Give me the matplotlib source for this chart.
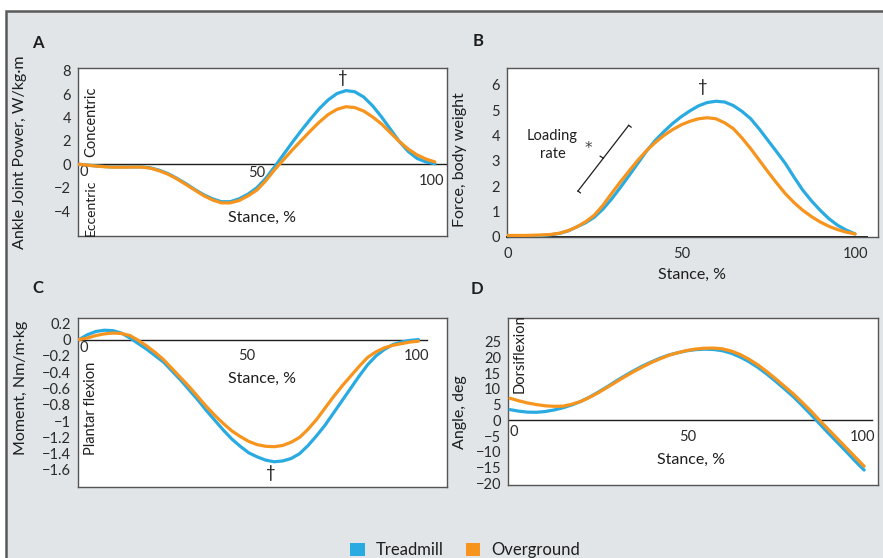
import matplotlib
matplotlib.use("Agg")
import matplotlib.pyplot as plt
from matplotlib.patches import Rectangle, Patch
import logging
logging.getLogger('matplotlib.font_manager').setLevel(logging.ERROR)

plt.rcParams['font.family'] = ['Liberation Sans Narrow', 'Lato', 'DejaVu Sans']

# ---------------- data ----------------
stance = [0, 2.5, 5, 7.5, 10, 12.5, 15, 17.5, 20, 22.5, 25, 27.5, 30, 32.5, 35, 37.5, 40,
          42.5, 45, 47.5, 50, 52.5, 55, 57.5, 60, 62.5, 65, 67.5, 70, 72.5, 75, 77.5, 80,
          82.5, 85, 87.5, 90, 92.5, 95, 97.5, 100]

power_treadmill = [0, -0.08, -0.15, -0.2, -0.23, -0.23, -0.22, -0.22, -0.3, -0.5, -0.8, -1.2,
                   -1.65, -2.15, -2.6, -2.95, -3.2, -3.2, -2.95, -2.55, -2.0, -1.2, -0.2, 0.85,
                   1.9, 2.9, 3.85, 4.75, 5.5, 6.05, 6.3, 6.2, 5.75, 5.0, 4.05, 3.0, 1.95, 1.1,
                   0.5, 0.2, 0.05]
power_overground = [0, -0.08, -0.16, -0.22, -0.25, -0.25, -0.24, -0.24, -0.33, -0.55, -0.85,
                    -1.25, -1.72, -2.2, -2.68, -3.05, -3.3, -3.3, -3.1, -2.7, -2.2, -1.4, -0.45,
                    0.4, 1.25, 2.05, 2.85, 3.6, 4.25, 4.7, 4.92, 4.85, 4.55, 4.05, 3.45, 2.7,
                    1.95, 1.3, 0.8, 0.45, 0.2]

force_treadmill = [0.02, 0.02, 0.03, 0.04, 0.06, 0.09, 0.14, 0.24, 0.40, 0.56, 0.78, 1.1, 1.5,
                   1.95, 2.42, 2.9, 3.38, 3.8, 4.15, 4.47, 4.74, 4.97, 5.17, 5.3, 5.35, 5.32,
                   5.18, 4.95, 4.66, 4.25, 3.8, 3.35, 2.89, 2.35, 1.84, 1.42, 1.05, 0.72, 0.46,
                   0.27, 0.12]
force_overground = [0.06, 0.06, 0.06, 0.07, 0.08, 0.1, 0.15, 0.25, 0.40, 0.6, 0.86, 1.25, 1.72,
                    2.17, 2.6, 3.02, 3.4, 3.72, 4.0, 4.23, 4.42, 4.56, 4.66, 4.7, 4.66, 4.5,
                    4.27, 3.9, 3.48, 3.02, 2.56, 2.12, 1.7, 1.35, 1.05, 0.8, 0.59, 0.42, 0.29,
                    0.19, 0.12]

moment_treadmill = [0.0, 0.06, 0.10, 0.115, 0.11, 0.08, 0.02, -0.05, -0.12, -0.2, -0.28, -0.39,
                    -0.5, -0.62, -0.74, -0.87, -0.99, -1.11, -1.22, -1.31, -1.39, -1.44, -1.48,
                    -1.5, -1.49, -1.46, -1.4, -1.3, -1.18, -1.05, -0.9, -0.75, -0.6, -0.45,
                    -0.31, -0.2, -0.12, -0.06, -0.03, -0.01, 0.0]
moment_overground = [0.0, 0.02, 0.05, 0.07, 0.08, 0.075, 0.05, -0.01, -0.08, -0.16, -0.25,
                     -0.36, -0.47, -0.58, -0.70, -0.82, -0.93, -1.03, -1.12, -1.19, -1.25,
                     -1.29, -1.31, -1.315, -1.3, -1.26, -1.2, -1.1, -0.98, -0.84, -0.7, -0.57,
                     -0.45, -0.33, -0.22, -0.15, -0.1, -0.07, -0.05, -0.03, -0.02]

angle_treadmill = [3.4, 2.9, 2.6, 2.55, 2.8, 3.3, 4.0, 4.9, 6.0, 7.4, 9.0, 10.7, 12.5, 14.2,
                   15.8, 17.3, 18.6, 19.8, 20.8, 21.5, 22.1, 22.45, 22.6, 22.5, 22.1, 21.3, 20.1,
                   18.6, 16.8, 14.7, 12.4, 10.0, 7.5, 4.7, 1.8, -1.2, -4.2, -7.1, -10.0, -13.0,
                   -15.8]
angle_overground = [7.0, 6.2, 5.5, 5.0, 4.6, 4.45, 4.5, 5.1, 6.0, 7.3, 8.8, 10.5, 12.2, 13.9,
                    15.5, 17.0, 18.4, 19.6, 20.7, 21.5, 22.2, 22.65, 22.9, 22.95, 22.7, 22.0,
                    20.9, 19.4, 17.6, 15.5, 13.2, 10.8, 8.4, 5.7, 2.9, -0.1, -3.0, -5.9, -8.8,
                    -11.7, -14.6]

series_names = ['Treadmill', 'Overground']
x_tick_values = [0, 50, 100]
power_ticks = [-4, -2, 0, 2, 4, 6, 8]
force_ticks = [0, 1, 2, 3, 4, 5, 6]
moment_ticks = [0.2, 0, -0.2, -0.4, -0.6, -0.8, -1, -1.2, -1.4, -1.6]
angle_ticks = [25, 20, 15, 10, 5, 0, -5, -10, -15, -20]

# ---------------- style ----------------
BLUE = '#29ABE2'
ORANGE = '#F7941D'
BG = '#E1E5E8'
TXT = '#1e1e1e'
TICKC = '#2a2a2a'
FRAME = '#555555'
LW = 2.3
TICK_FS = 10.5
LABEL_FS = 11.5

fig = plt.figure(figsize=(8.83, 5.58), dpi=100)
fig.patch.set_facecolor('white')
fig.patches.append(Rectangle((6 / 883, -0.05), 1.1, 1 - 11 / 558 + 0.05,
                             transform=fig.transFigure, facecolor=BG,
                             edgecolor='#5a5a5a', linewidth=1.8, zorder=-10))


def fmt(v):
    s = ('%g' % v)
    return s.replace('-', '\u2212') if v < 0 else s


def setup(ax, xlim, ylim, yticks):
    ax.set_facecolor('white')
    ax.set_xlim(*xlim)
    ax.set_ylim(*ylim)
    for sp in ax.spines.values():
        sp.set_color(FRAME)
        sp.set_linewidth(1.0)
    ax.set_yticks(yticks)
    ax.set_yticklabels([fmt(v) for v in yticks])
    ax.tick_params(axis='y', length=0, pad=5, labelsize=TICK_FS, labelcolor=TICKC)
    ax.tick_params(axis='x', length=0)


def plot_pair(ax, a, b):
    ax.plot(stance, a, color=BLUE, lw=LW, solid_capstyle='round', zorder=3)
    ax.plot(stance, b, color=ORANGE, lw=LW, solid_capstyle='round', zorder=4)


# ---- A ----
axA = fig.add_axes([0.0883, 0.5771, 0.4179, 0.3010])
setup(axA, (-0.3, 103.4), (-6.13, 8.23), power_ticks)
axA.set_xticks([])
axA.axhline(0, color=TXT, lw=1.0, zorder=2)
plot_pair(axA, power_treadmill, power_overground)
for xv, xp, yp in zip(x_tick_values, [1.4, 50, 99], [-0.7, -0.74, -1.43]):
    axA.text(xp, yp, str(xv), ha='center', va='center', fontsize=TICK_FS, color=TICKC)
axA.text(51.4, -4.59, 'Stance, %', ha='center', va='center', fontsize=LABEL_FS, color=TXT)
axA.set_ylabel('Ankle Joint Power, W/kg\u00b7m', fontsize=LABEL_FS, color=TXT)
axA.yaxis.set_label_coords(-0.138, 0.5)
axA.text(3.3, 0.62, 'Concentric', rotation=90, ha='center', va='bottom', fontsize=TICK_FS, color=TXT)
axA.text(3.3, -1.3, 'Eccentric', rotation=90, ha='center', va='top', fontsize=10, color=TXT)
axA.text(74.2, 7.4, '\u2020', ha='center', va='center', fontsize=12, color=TXT)

# ---- B ----
axB = fig.add_axes([0.5742, 0.5753, 0.4201, 0.3028])
setup(axB, (-0.1, 106.6), (0, 6.66), force_ticks)
axB.set_xticks(x_tick_values)
axB.set_xticklabels([str(v) for v in x_tick_values])
axB.tick_params(axis='x', pad=7, labelsize=TICK_FS, labelcolor=TICKC)
axB.plot([0, 103.5], [0, 0], color=TXT, lw=1.4, zorder=2, clip_on=False)
plot_pair(axB, force_treadmill, force_overground)
axB.set_xlabel('Stance, %', fontsize=LABEL_FS, color=TXT, labelpad=5)
axB.set_ylabel('Force, body weight', fontsize=LABEL_FS, color=TXT)
axB.yaxis.set_label_coords(-0.108, 0.456)
axB.text(56.3, 5.93, '\u2020', ha='center', va='center', fontsize=12, color=TXT)
axB.text(13.0, 3.64, 'Loading\nrate', ha='center', va='center', fontsize=TICK_FS,
         color=TXT, linespacing=1.35)
axB.text(23.2, 3.49, '*', ha='center', va='center', fontsize=11, color='#444444',
         family=['DejaVu Sans'])
# loading-rate bracket
bx0, by0, bx1, by1 = 20.3, 1.81, 34.9, 4.4
axB.plot([bx0, bx1], [by0, by1], color=TXT, lw=0.9)
axB.plot([bx0, bx0 + 0.7], [by0, by0 - 0.07], color=TXT, lw=0.9)
axB.plot([bx1, bx1 + 0.7], [by1, by1 - 0.07], color=TXT, lw=0.9)
bxm, bym = (bx0 + bx1) / 2, (by0 + by1) / 2
axB.plot([bxm, bxm - 0.9], [bym, bym + 0.08], color=TXT, lw=0.9)

# ---- C ----
axC = fig.add_axes([0.0883, 0.1272, 0.4179, 0.3029])
setup(axC, (-0.3, 108.4), (-1.81, 0.265), moment_ticks)
axC.set_xticks([])
axC.plot([-0.3, 102.6], [0, 0], color=TXT, lw=1.0, zorder=2)
plot_pair(axC, moment_treadmill, moment_overground)
for xv, xp, yp in zip(x_tick_values, [1.3, 49.4, 99.5], [-0.103, -0.2, -0.2]):
    axC.text(xp, yp, str(xv), ha='center', va='center', fontsize=TICK_FS, color=TICKC)
axC.text(53.9, -0.483, 'Stance, %', ha='center', va='center', fontsize=LABEL_FS, color=TXT)
axC.set_ylabel('Moment, Nm/m\u00b7kg', fontsize=LABEL_FS, color=TXT)
axC.yaxis.set_label_coords(-0.135, 0.586)
axC.text(3.5, -1.416, 'Plantar flexion', rotation=90, ha='center', va='bottom',
         fontsize=TICK_FS, color=TXT)
axC.text(56.6, -1.643, '\u2020', ha='center', va='center', fontsize=12, color=TXT)

# ---- D ----
axD = fig.add_axes([0.5753, 0.1308, 0.4190, 0.2993])
setup(axD, (-0.56, 103.9), (-20.55, 32.5), angle_ticks)
axD.set_xticks([])
axD.plot([-0.56, 102.2], [0, 0], color=TXT, lw=1.0, zorder=2)
plot_pair(axD, angle_treadmill, angle_overground)
for xv, xp, yp in zip(x_tick_values, [0.94, 50.1, 99.5], [-3.7, -5.3, -5.3]):
    axD.text(xp, yp, str(xv), ha='center', va='center', fontsize=TICK_FS, color=TICKC)
axD.text(51.0, -12.6, 'Stance, %', ha='center', va='center', fontsize=LABEL_FS, color=TXT)
axD.set_ylabel('Angle, deg', fontsize=LABEL_FS, color=TXT)
axD.yaxis.set_label_coords(-0.111, 0.437)
axD.text(2.8, 8.7, 'Dorsiflexion', rotation=90, ha='center', va='bottom',
         fontsize=TICK_FS, color=TXT)

# ---- panel letters ----
for letter, px, py in [('A', 37.7, 42.7), ('B', 477.7, 40.7), ('C', 37.7, 288.3), ('D', 477.3, 289.3)]:
    fig.text(px / 883, 1 - py / 558, letter, ha='center', va='center',
             fontsize=12, fontweight='bold', color=TXT)

# ---- legend ----
handles = [Patch(facecolor=BLUE, edgecolor='none'), Patch(facecolor=ORANGE, edgecolor='none')]
fig.legend(handles, series_names, loc='center', bbox_to_anchor=(0.527, 1 - 550 / 558),
           ncol=2, frameon=False, fontsize=12, handlelength=0.85, handleheight=0.85,
           handletextpad=0.7, columnspacing=1.3, labelcolor=TXT)

fig.savefig('out.png', dpi=100, facecolor=fig.get_facecolor())
